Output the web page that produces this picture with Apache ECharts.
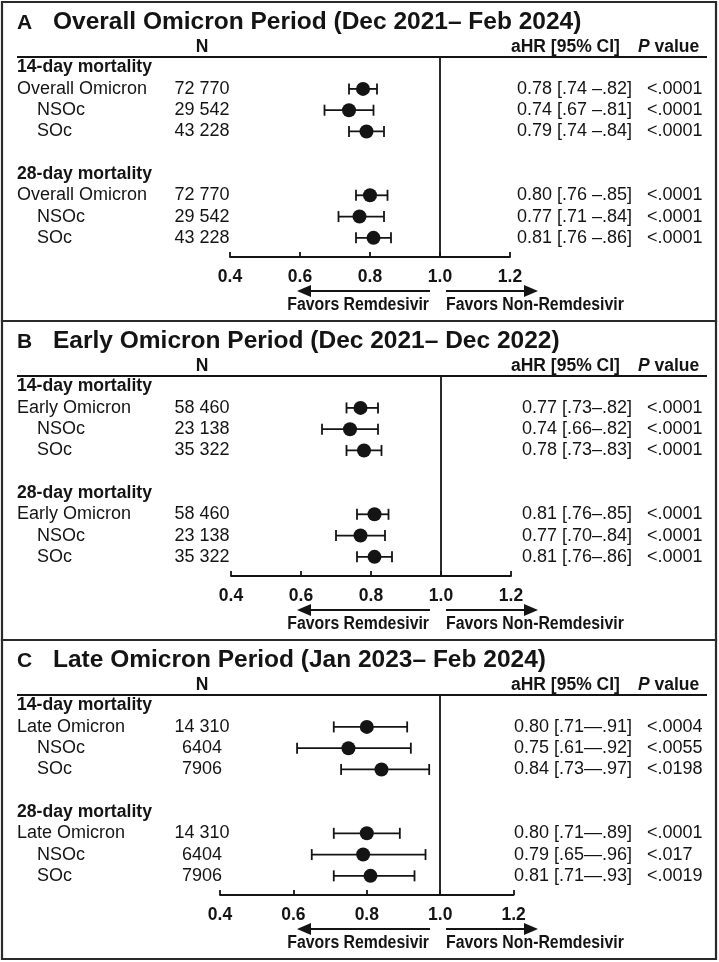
<!DOCTYPE html>
<html><head><meta charset="utf-8">
<script src="https://cdn.jsdelivr.net/npm/echarts@6/dist/echarts.min.js"></script>
<style>html,body{margin:0;padding:0;background:#fff}#c{width:719px;height:962px}</style>
</head><body><div id="c"></div>
<script>
// ---- data ----
const panelLetters = ['A', 'B', 'C'];
const panelTitles = [
  'Overall Omicron Period (Dec 2021\u2013 Feb 2024)',
  'Early Omicron Period (Dec 2021\u2013 Dec 2022)',
  'Late Omicron Period (Jan 2023\u2013 Feb 2024)'
];
const sectionLabels = ['14-day mortality', '28-day mortality'];
const groupLabelsA = ['Overall Omicron', 'NSOc', 'SOc', 'Overall Omicron', 'NSOc', 'SOc'];
const groupLabelsB = ['Early Omicron', 'NSOc', 'SOc', 'Early Omicron', 'NSOc', 'SOc'];
const groupLabelsC = ['Late Omicron', 'NSOc', 'SOc', 'Late Omicron', 'NSOc', 'SOc'];
const nA = ['72 770', '29 542', '43 228', '72 770', '29 542', '43 228'];
const nB = ['58 460', '23 138', '35 322', '58 460', '23 138', '35 322'];
const nC = ['14 310', '6404', '7906', '14 310', '6404', '7906'];
const hrA = [0.78, 0.74, 0.79, 0.80, 0.77, 0.81];
const loA = [0.74, 0.67, 0.74, 0.76, 0.71, 0.76];
const hiA = [0.82, 0.81, 0.84, 0.85, 0.84, 0.86];
const hrB = [0.77, 0.74, 0.78, 0.81, 0.77, 0.81];
const loB = [0.73, 0.66, 0.73, 0.76, 0.70, 0.76];
const hiB = [0.82, 0.82, 0.83, 0.85, 0.84, 0.86];
const hrC = [0.80, 0.75, 0.84, 0.80, 0.79, 0.81];
const loC = [0.71, 0.61, 0.73, 0.71, 0.65, 0.71];
const hiC = [0.91, 0.92, 0.97, 0.89, 0.96, 0.93];
const ciA = ['0.78 [.74 \u2013.82]', '0.74 [.67 \u2013.81]', '0.79 [.74 \u2013.84]', '0.80 [.76 \u2013.85]', '0.77 [.71 \u2013.84]', '0.81 [.76 \u2013.86]'];
const ciB = ['0.77 [.73\u2013.82]', '0.74 [.66\u2013.82]', '0.78 [.73\u2013.83]', '0.81 [.76\u2013.85]', '0.77 [.70\u2013.84]', '0.81 [.76\u2013.86]'];
const ciC = ['0.80 [.71\u2014.91]', '0.75 [.61\u2014.92]', '0.84 [.73\u2014.97]', '0.80 [.71\u2014.89]', '0.79 [.65\u2014.96]', '0.81 [.71\u2014.93]'];
const pA = ['<.0001', '<.0001', '<.0001', '<.0001', '<.0001', '<.0001'];
const pB = ['<.0001', '<.0001', '<.0001', '<.0001', '<.0001', '<.0001'];
const pC = ['<.0004', '<.0055', '<.0198', '<.0001', '<.017', '<.0019'];
const xTicks = [0.4, 0.6, 0.8, 1.0, 1.2];
const headerN = 'N';
const headerCI = 'aHR [95% CI]';
const favorsLeft = 'Favors Remdesivir';
const favorsRight = 'Favors Non-Remdesivir';

// ---- layout ----
const FONT = '"Liberation Sans", Arial, Helvetica, sans-serif';
const INK = '#141414';
const panels = [
  { top: 2, left: 230, width: 280, labels: groupLabelsA, n: nA, hr: hrA, lo: loA, hi: hiA, ci: ciA, p: pA },
  { top: 321, left: 231, width: 280, labels: groupLabelsB, n: nB, hr: hrB, lo: loB, hi: hiB, ci: ciB, p: pB },
  { top: 640, left: 220, width: 293.6, labels: groupLabelsC, n: nC, hr: hrC, lo: loC, hi: hiC, ci: ciC, p: pC }
];
const PANEL_H = 319;
const rowOf = i => (i < 3 ? i + 1 : i + 3);

const grids = [], xAxes = [], yAxes = [], series = [], graphics = [];

panels.forEach((pn, k) => {
  const T = pn.top;
  grids.push({ left: pn.left, width: pn.width, top: T + 55, height: 200, containLabel: false });
  xAxes.push({
    type: 'value', gridIndex: k, min: xTicks[0], max: xTicks[xTicks.length - 1], interval: 0.2,
    position: 'bottom',
    axisLine: { show: true, onZero: false, lineStyle: { color: INK, width: 1.8 } },
    axisTick: { show: true, inside: true, length: 5, lineStyle: { color: INK, width: 1.8 } },
    axisLabel: { show: true, margin: 11, fontSize: 17.5, fontWeight: 'bold', color: INK, fontFamily: FONT,
      formatter: v => v.toFixed(1) },
    splitLine: { show: false }
  });
  yAxes.push({ type: 'value', gridIndex: k, inverse: true, min: -0.5, max: 8.9, show: false });

  // error bars
  series.push({
    type: 'custom', xAxisIndex: k, yAxisIndex: k, clip: false, z: 3,
    data: pn.lo.map((l, i) => [l, pn.hi[i], rowOf(i)]),
    encode: { x: [0, 1], y: 2 },
    renderItem: (params, api) => {
      const a = api.coord([api.value(0), api.value(2)]);
      const b = api.coord([api.value(1), api.value(2)]);
      const st = { stroke: INK, lineWidth: 1.8 };
      return { type: 'group', children: [
        { type: 'line', shape: { x1: a[0], y1: a[1], x2: b[0], y2: b[1] }, style: st },
        { type: 'line', shape: { x1: a[0], y1: a[1] - 5.5, x2: a[0], y2: a[1] + 5.5 }, style: st },
        { type: 'line', shape: { x1: b[0], y1: b[1] - 5.5, x2: b[0], y2: b[1] + 5.5 }, style: st }
      ] };
    }
  });
  // points + reference line
  series.push({
    type: 'scatter', xAxisIndex: k, yAxisIndex: k, z: 4,
    data: pn.hr.map((h, i) => [h, rowOf(i)]),
    symbol: 'circle', symbolSize: 14, itemStyle: { color: INK, opacity: 1 },
    markLine: { silent: true, symbol: ['none', 'none'], label: { show: false },
      lineStyle: { color: INK, width: 1.8, type: 'solid' }, data: [{ xAxis: 1 }] }
  });
  // row texts (y from axis scale)
  const textData = [];
  sectionLabels.forEach((s, si) => textData.push([1, si * 5, -1 - si]));
  pn.hr.forEach((h, i) => textData.push([1, rowOf(i), i]));
  series.push({
    type: 'custom', xAxisIndex: k, yAxisIndex: k, clip: false, z: 5,
    data: textData,
    renderItem: (params, api) => {
      const y = api.coord([1, api.value(1)])[1];
      const idx = api.value(2);
      const base = { fontFamily: FONT, fill: INK, verticalAlign: 'middle', fontSize: 18 };
      if (idx < 0) {
        return { type: 'text', x: 17, y: y, style: Object.assign({}, base, { text: sectionLabels[-idx - 1], fontWeight: 'bold', align: 'left', fontSize: 17.6 }) };
      }
      const indent = (idx % 3) === 0 ? 17 : 37;
      return { type: 'group', children: [
        { type: 'text', x: indent, y: y, style: Object.assign({}, base, { text: pn.labels[idx], align: 'left' }) },
        { type: 'text', x: 202, y: y, style: Object.assign({}, base, { text: pn.n[idx], align: 'center' }) },
        { type: 'text', x: 632, y: y, style: Object.assign({}, base, { text: pn.ci[idx], align: 'right' }) },
        { type: 'text', x: 647, y: y, style: Object.assign({}, base, { text: pn.p[idx], align: 'left' }) }
      ] };
    }
  });

  // panel decorations
  graphics.push({ type: 'rect', shape: { x: 2, y: T, width: 714, height: PANEL_H }, style: { fill: 'none', stroke: '#2a2a2a', lineWidth: 2.2 }, z: 1 });
  graphics.push({ type: 'text', x: 17, y: T + 21, style: { text: panelLetters[k], font: 'bold 21px ' + FONT, fill: INK, verticalAlign: 'middle' } });
  graphics.push({ type: 'text', x: 53, y: T + 20, style: { text: panelTitles[k], font: 'bold 24.5px ' + FONT, fill: INK, verticalAlign: 'middle' } });
  graphics.push({ type: 'text', x: 202, y: T + 45, style: { text: headerN, font: 'bold 17.5px ' + FONT, fill: INK, align: 'center', verticalAlign: 'middle' } });
  graphics.push({ type: 'text', x: 511, y: T + 45, style: { text: headerCI, font: 'bold 17.5px ' + FONT, fill: INK, verticalAlign: 'middle' } });
  graphics.push({ type: 'text', x: 638, y: T + 45, style: { text: '{i|P} value', font: 'bold 17.5px ' + FONT, fill: INK, verticalAlign: 'middle',
    rich: { i: { fontStyle: 'italic', fontWeight: 'bold', fontSize: 17.5, fontFamily: FONT, fill: INK } } } });
  graphics.push({ type: 'line', shape: { x1: 17, y1: T + 55, x2: 707, y2: T + 55 }, style: { stroke: INK, lineWidth: 2 } });
  // arrows
  const ay = T + 289;
  graphics.push({ type: 'line', shape: { x1: 430, y1: ay, x2: 308, y2: ay }, style: { stroke: INK, lineWidth: 2 } });
  graphics.push({ type: 'polygon', shape: { points: [[297, ay], [311, ay - 6], [311, ay + 6]] }, style: { fill: INK } });
  graphics.push({ type: 'line', shape: { x1: 446, y1: ay, x2: 527, y2: ay }, style: { stroke: INK, lineWidth: 2 } });
  graphics.push({ type: 'polygon', shape: { points: [[538, ay], [524, ay - 6], [524, ay + 6]] }, style: { fill: INK } });
  graphics.push({ type: 'text', x: 429, y: T + 303, scaleX: 0.88, style: { text: favorsLeft, font: 'bold 18px ' + FONT, fill: INK, align: 'right', verticalAlign: 'middle' } });
  graphics.push({ type: 'text', x: 446, y: T + 303, scaleX: 0.88, style: { text: favorsRight, font: 'bold 18px ' + FONT, fill: INK, align: 'left', verticalAlign: 'middle' } });
});

const chart = echarts.init(document.getElementById('c'), null, { renderer: 'canvas' });
chart.setOption({
  animation: false,
  backgroundColor: '#ffffff',
  grid: grids, xAxis: xAxes, yAxis: yAxes, series: series,
  graphic: graphics
});
</script></body></html>
